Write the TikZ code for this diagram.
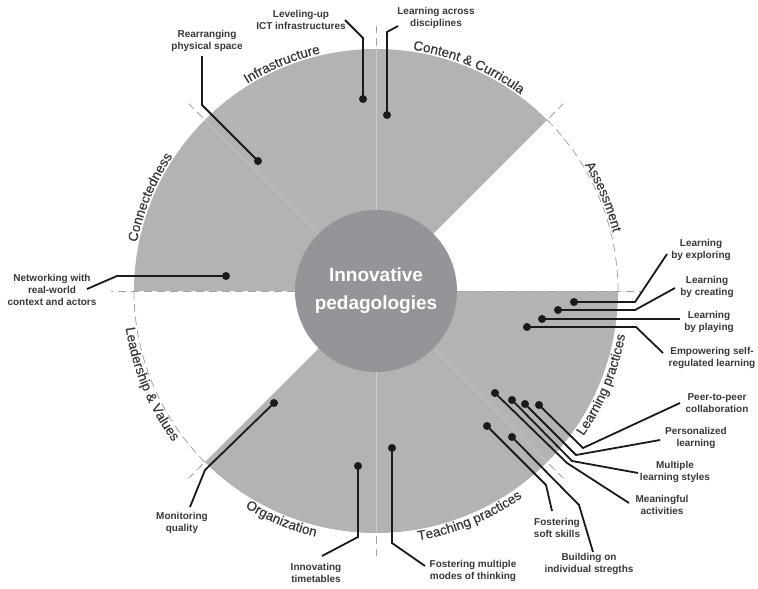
\documentclass[tikz,border=0pt]{standalone}
\usepackage{fontspec}
\setmainfont{Liberation Sans}
\newfontfamily\arcfam[FakeBold=0.35]{Liberation Sans}
\usetikzlibrary{decorations.text}
\definecolor{sectorgray}{HTML}{B2B3B5}
\definecolor{centergray}{HTML}{949599}
\definecolor{labelgray}{HTML}{383838}
\definecolor{linecol}{HTML}{1A1A1A}
\definecolor{dashgray}{HTML}{A3A3A3}
\definecolor{lightline}{HTML}{CBCBCB}
\newcommand\arcfont{\arcfam\fontsize{13.5}{16}\selectfont}
\newcommand\itemfont{\fontsize{10}{12}\selectfont\bfseries}
\newcommand\corefont{\fontsize{19}{28}\selectfont\bfseries}
\begin{document}
\begin{tikzpicture}[x=1pt,y=-1pt,
  dot/.style={circle,fill=linecol,inner sep=0pt,minimum size=8pt},
  leader/.style={draw=linecol,line width=1.8pt},
  itemlabel/.style={font=\itemfont,align=center,text=labelgray,inner sep=0pt},
  radash/.style={draw=dashgray,line width=0.8pt,dash pattern=on 8pt off 5pt},
  arclabel/.style={decorate,decoration={text along path,text={#1},text align=center,text color=labelgray}}
]
\useasboundingbox (0,0) rectangle (758,589);

\begin{scope}[shift={(376,291)}]
  \fill[sectorgray] (0,0) -- (45:242pt) arc[start angle=45,end angle=180,radius=242pt] -- cycle;
  \fill[sectorgray] (0,0) -- (225:242pt) arc[start angle=225,end angle=360,radius=242pt] -- cycle;
  \foreach \a in {90,135,270,315} \draw[lightline,line width=0.6pt] (\a:81pt) -- (\a:242pt);
  \foreach \a in {0,180} \draw[radash] (\a:81pt) -- (\a:265pt);
  \foreach \a in {45,90,135,225,270,315} \draw[radash] (\a:245pt) -- (\a:265pt);
  \draw[radash] (0:242pt) arc[start angle=0,end angle=45,radius=242pt];
  \draw[radash] (180:242pt) arc[start angle=180,end angle=225,radius=242pt];
  % sector titles along the arcs
  \path[arclabel={|\arcfont|Assessment}] (44.5:244pt) arc[start angle=44.5,end angle=0.5,radius=244pt];
  \path[arclabel={|\arcfont|Content {\&} Curricula}] (89.5:244pt) arc[start angle=89.5,end angle=45.5,radius=244pt];
  \path[arclabel={|\arcfont|Infrastructure}] (134.5:244pt) arc[start angle=134.5,end angle=90.5,radius=244pt];
  \path[arclabel={|\arcfont|Connectedness}] (179.5:244pt) arc[start angle=179.5,end angle=135.5,radius=244pt];
  \path[arclabel={|\arcfont|Leadership {\&} Values}] (180.5:253pt) arc[start angle=180.5,end angle=224.5,radius=253pt];
  \path[arclabel={|\arcfont|Organization}] (225.5:253pt) arc[start angle=225.5,end angle=269.5,radius=253pt];
  \path[arclabel={|\arcfont|Teaching practices}] (270.5:253pt) arc[start angle=270.5,end angle=314.5,radius=253pt];
  \path[arclabel={|\arcfont|Learning practices}] (315.5:253pt) arc[start angle=315.5,end angle=359.5,radius=253pt];
\end{scope}

\node[circle,fill=centergray,minimum size=162pt,inner sep=0pt,text=white,font=\corefont,align=center] (core) at (376,291) {Innovative\\pedagologies};

% Leveling-up ICT infrastructures
\node[dot] (d1) at (363,99) {};
\coordinate (e1) at (363,38); \coordinate (f1) at (345,20);
\draw[leader] (d1.center) -- (e1) -- (f1);
\node[itemlabel] (l1) at (301,19.5) {Leveling-up\\ICT infrastructures};

% Learning across disciplines
\node[dot] (d2) at (387,115) {};
\coordinate (e2) at (387,32); \coordinate (f2) at (398,26);
\draw[leader] (d2.center) -- (e2) -- (f2);
\node[itemlabel] (l2) at (436,18) {Learning across\\disciplines};

% Rearranging physical space
\node[dot] (d3) at (258,161) {};
\coordinate (e3) at (202,105); \coordinate (f3) at (202,56);
\draw[leader] (d3.center) -- (e3) -- (f3);
\node[itemlabel] (l3) at (207,41) {Rearranging\\physical space};

% Networking
\node[dot] (d4) at (226,276) {};
\coordinate (e4) at (117,276); \coordinate (f4) at (87,289);
\draw[leader] (d4.center) -- (e4) -- (f4);
\node[itemlabel] (l4) at (52,290) {Networking with\\real-world\\context and actors};

% Monitoring quality
\node[dot] (d5) at (274,403) {};
\coordinate (e5) at (205,470); \coordinate (f5) at (190,507);
\draw[leader] (d5.center) -- (e5) -- (f5);
\node[itemlabel] (l5) at (182,523) {Monitoring\\quality};

% Innovating timetables
\node[dot] (d6) at (358,466) {};
\coordinate (e6) at (358,537); \coordinate (f6) at (322,556);
\draw[leader] (d6.center) -- (e6) -- (f6);
\node[itemlabel] (l6) at (316,573) {Innovating\\timetables};

% Fostering multiple modes of thinking
\node[dot] (d7) at (392,448) {};
\coordinate (e7) at (392,543); \coordinate (f7) at (425,566);
\draw[leader] (d7.center) -- (e7) -- (f7);
\node[itemlabel] (l7) at (473,571) {Fostering multiple\\modes of thinking};

% Fostering soft skills
\node[dot] (d8) at (487,426) {};
\coordinate (e8) at (546,485); \coordinate (f8) at (552,511);
\draw[leader] (d8.center) -- (e8) -- (f8);
\node[itemlabel] (l8) at (557,528) {Fostering\\soft skills};

% Building on individual stregths
\node[dot] (d9) at (512,437) {};
\coordinate (e9) at (579,505); \coordinate (f9) at (593,552);
\draw[leader] (d9.center) -- (e9) -- (f9);
\node[itemlabel] (l9) at (589,564) {Building on\\individual stregths};

% Peer-to-peer collaboration
\node[dot] (d10) at (539,405) {};
\coordinate (e10) at (583,448); \coordinate (f10) at (680,403);
\draw[leader] (d10.center) -- (e10) -- (f10);
\node[itemlabel] (l10) at (717,403) {Peer-to-peer\\collaboration};

% Personalized learning
\node[dot] (d11) at (525,404) {};
\coordinate (e11) at (576,455); \coordinate (f11) at (660,440);
\draw[leader] (d11.center) -- (e11) -- (f11);
\node[itemlabel] (l11) at (696,437.5) {Personalized\\learning};

% Multiple learning styles
\node[dot] (d12) at (512,400) {};
\coordinate (e12) at (572,461); \coordinate (f12) at (638,473);
\draw[leader] (d12.center) -- (e12) -- (f12);
\node[itemlabel] (l12) at (675,472) {Multiple\\learning styles};

% Meaningful activities
\node[dot] (d13) at (495,393) {};
\coordinate (e13) at (567,463); \coordinate (f13) at (629,503);
\draw[leader] (d13.center) -- (e13) -- (f13);
\node[itemlabel] (l13) at (662,505) {Meaningful\\activities};

% Learning by exploring
\node[dot] (d14) at (574,302) {};
\coordinate (e14) at (635,302); \coordinate (f14) at (667,254);
\draw[leader] (d14.center) -- (e14) -- (f14);
\node[itemlabel] (l14) at (701,250) {Learning\\by exploring};

% Learning by creating
\node[dot] (d15) at (558,310) {};
\coordinate (e15) at (635,310); \coordinate (f15) at (675,288);
\draw[leader] (d15.center) -- (e15) -- (f15);
\node[itemlabel] (l15) at (707,287) {Learning\\by creating};

% Learning by playing
\node[dot] (d16) at (542,319) {};
\coordinate (f16) at (680,319);
\draw[leader] (d16.center) -- (f16);
\node[itemlabel] (l16) at (709,322) {Learning\\by playing};

% Empowering self-regulated learning
\node[dot] (d17) at (527,327) {};
\coordinate (e17) at (636,327); \coordinate (f17) at (663,353);
\draw[leader] (d17.center) -- (e17) -- (f17);
\node[itemlabel] (l17) at (712,358) {Empowering self-\\regulated learning};
\end{tikzpicture}
\end{document}
